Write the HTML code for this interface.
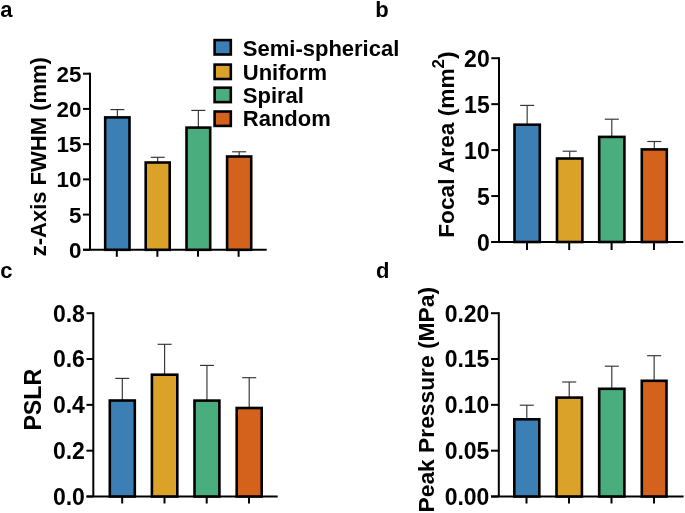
<!DOCTYPE html>
<html><head><meta charset="utf-8"><style>
html,body{margin:0;padding:0;background:#fff;}
svg{display:block;will-change:transform;}
text{font-family:"Liberation Sans",sans-serif;font-weight:bold;fill:#000;}
</style></head><body>
<svg width="685" height="513" viewBox="0 0 685 513">
<rect width="685" height="513" fill="#fff"/>
<text x="0.30" y="17.00" text-anchor="start" font-size="22" >a</text>
<text x="375.20" y="17.00" text-anchor="start" font-size="22" >b</text>
<text x="0.30" y="278.00" text-anchor="start" font-size="22" >c</text>
<text x="376.00" y="278.00" text-anchor="start" font-size="22" >d</text>
<line x1="90.00" y1="72.70" x2="90.00" y2="249.80" stroke="#000" stroke-width="2"/>
<line x1="83.00" y1="249.80" x2="90.00" y2="249.80" stroke="#000" stroke-width="2"/>
<text x="81.40" y="257.93" text-anchor="end" font-size="22.4" >0</text>
<line x1="83.00" y1="214.58" x2="90.00" y2="214.58" stroke="#000" stroke-width="2"/>
<text x="81.40" y="222.71" text-anchor="end" font-size="22.4" >5</text>
<line x1="83.00" y1="179.36" x2="90.00" y2="179.36" stroke="#000" stroke-width="2"/>
<text x="81.40" y="187.49" text-anchor="end" font-size="22.4" >10</text>
<line x1="83.00" y1="144.14" x2="90.00" y2="144.14" stroke="#000" stroke-width="2"/>
<text x="81.40" y="152.27" text-anchor="end" font-size="22.4" >15</text>
<line x1="83.00" y1="108.92" x2="90.00" y2="108.92" stroke="#000" stroke-width="2"/>
<text x="81.40" y="117.05" text-anchor="end" font-size="22.4" >20</text>
<line x1="83.00" y1="73.70" x2="90.00" y2="73.70" stroke="#000" stroke-width="2"/>
<text x="81.40" y="81.83" text-anchor="end" font-size="22.4" >25</text>
<line x1="83.00" y1="249.80" x2="266.70" y2="249.80" stroke="#000" stroke-width="2"/>
<line x1="117.35" y1="109.60" x2="117.35" y2="117.40" stroke="#333" stroke-width="1.15"/>
<line x1="110.35" y1="109.60" x2="124.35" y2="109.60" stroke="#333" stroke-width="1.15"/>
<rect x="105.20" y="117.40" width="24.30" height="132.40" fill="#3C7FB5" stroke="#000" stroke-width="2.6"/>
<line x1="116.80" y1="249.80" x2="116.80" y2="256.80" stroke="#000" stroke-width="2"/>
<line x1="157.70" y1="157.30" x2="157.70" y2="162.50" stroke="#333" stroke-width="1.15"/>
<line x1="150.70" y1="157.30" x2="164.70" y2="157.30" stroke="#333" stroke-width="1.15"/>
<rect x="145.70" y="162.50" width="24.00" height="87.30" fill="#DAA229" stroke="#000" stroke-width="2.6"/>
<line x1="157.40" y1="249.80" x2="157.40" y2="256.80" stroke="#000" stroke-width="2"/>
<line x1="198.35" y1="110.40" x2="198.35" y2="127.60" stroke="#333" stroke-width="1.15"/>
<line x1="191.35" y1="110.40" x2="205.35" y2="110.40" stroke="#333" stroke-width="1.15"/>
<rect x="186.50" y="127.60" width="23.70" height="122.20" fill="#4AAD7D" stroke="#000" stroke-width="2.6"/>
<line x1="198.00" y1="249.80" x2="198.00" y2="256.80" stroke="#000" stroke-width="2"/>
<line x1="239.15" y1="151.80" x2="239.15" y2="156.50" stroke="#333" stroke-width="1.15"/>
<line x1="232.15" y1="151.80" x2="246.15" y2="151.80" stroke="#333" stroke-width="1.15"/>
<rect x="227.10" y="156.50" width="24.10" height="93.30" fill="#D4621C" stroke="#000" stroke-width="2.6"/>
<line x1="238.60" y1="249.80" x2="238.60" y2="256.80" stroke="#000" stroke-width="2"/>
<line x1="499.00" y1="57.20" x2="499.00" y2="242.00" stroke="#000" stroke-width="2"/>
<line x1="491.30" y1="242.00" x2="499.00" y2="242.00" stroke="#000" stroke-width="2"/>
<text x="489.70" y="251.24" text-anchor="end" font-size="23" >0</text>
<line x1="491.30" y1="196.05" x2="499.00" y2="196.05" stroke="#000" stroke-width="2"/>
<text x="489.70" y="205.29" text-anchor="end" font-size="23" >5</text>
<line x1="491.30" y1="150.10" x2="499.00" y2="150.10" stroke="#000" stroke-width="2"/>
<text x="489.70" y="159.34" text-anchor="end" font-size="23" >10</text>
<line x1="491.30" y1="104.15" x2="499.00" y2="104.15" stroke="#000" stroke-width="2"/>
<text x="489.70" y="113.38" text-anchor="end" font-size="23" >15</text>
<line x1="491.30" y1="58.20" x2="499.00" y2="58.20" stroke="#000" stroke-width="2"/>
<text x="489.70" y="67.43" text-anchor="end" font-size="23" >20</text>
<line x1="491.30" y1="242.00" x2="683.30" y2="242.00" stroke="#000" stroke-width="2"/>
<line x1="527.15" y1="105.40" x2="527.15" y2="124.70" stroke="#333" stroke-width="1.15"/>
<line x1="520.15" y1="105.40" x2="534.15" y2="105.40" stroke="#333" stroke-width="1.15"/>
<rect x="514.50" y="124.70" width="25.30" height="117.30" fill="#3C7FB5" stroke="#000" stroke-width="2.6"/>
<line x1="527.00" y1="242.00" x2="527.00" y2="250.00" stroke="#000" stroke-width="2"/>
<line x1="569.70" y1="151.20" x2="569.70" y2="158.50" stroke="#333" stroke-width="1.15"/>
<line x1="562.70" y1="151.20" x2="576.70" y2="151.20" stroke="#333" stroke-width="1.15"/>
<rect x="557.00" y="158.50" width="25.40" height="83.50" fill="#DAA229" stroke="#000" stroke-width="2.6"/>
<line x1="569.20" y1="242.00" x2="569.20" y2="250.00" stroke="#000" stroke-width="2"/>
<line x1="611.80" y1="119.20" x2="611.80" y2="136.90" stroke="#333" stroke-width="1.15"/>
<line x1="604.80" y1="119.20" x2="618.80" y2="119.20" stroke="#333" stroke-width="1.15"/>
<rect x="599.20" y="136.90" width="25.20" height="105.10" fill="#4AAD7D" stroke="#000" stroke-width="2.6"/>
<line x1="611.60" y1="242.00" x2="611.60" y2="250.00" stroke="#000" stroke-width="2"/>
<line x1="654.30" y1="141.50" x2="654.30" y2="149.40" stroke="#333" stroke-width="1.15"/>
<line x1="647.30" y1="141.50" x2="661.30" y2="141.50" stroke="#333" stroke-width="1.15"/>
<rect x="641.80" y="149.40" width="25.00" height="92.60" fill="#D4621C" stroke="#000" stroke-width="2.6"/>
<line x1="654.00" y1="242.00" x2="654.00" y2="250.00" stroke="#000" stroke-width="2"/>
<line x1="93.30" y1="312.20" x2="93.30" y2="496.50" stroke="#000" stroke-width="2"/>
<line x1="86.50" y1="496.50" x2="93.30" y2="496.50" stroke="#000" stroke-width="2"/>
<text x="84.90" y="504.83" text-anchor="end" font-size="23" >0.0</text>
<line x1="86.50" y1="450.68" x2="93.30" y2="450.68" stroke="#000" stroke-width="2"/>
<text x="84.90" y="459.01" text-anchor="end" font-size="23" >0.2</text>
<line x1="86.50" y1="404.85" x2="93.30" y2="404.85" stroke="#000" stroke-width="2"/>
<text x="84.90" y="413.19" text-anchor="end" font-size="23" >0.4</text>
<line x1="86.50" y1="359.02" x2="93.30" y2="359.02" stroke="#000" stroke-width="2"/>
<text x="84.90" y="367.36" text-anchor="end" font-size="23" >0.6</text>
<line x1="86.50" y1="313.20" x2="93.30" y2="313.20" stroke="#000" stroke-width="2"/>
<text x="84.90" y="321.53" text-anchor="end" font-size="23" >0.8</text>
<line x1="86.50" y1="496.50" x2="277.70" y2="496.50" stroke="#000" stroke-width="2"/>
<line x1="122.30" y1="378.40" x2="122.30" y2="400.50" stroke="#333" stroke-width="1.15"/>
<line x1="115.30" y1="378.40" x2="129.30" y2="378.40" stroke="#333" stroke-width="1.15"/>
<rect x="109.80" y="400.50" width="25.00" height="96.00" fill="#3C7FB5" stroke="#000" stroke-width="2.6"/>
<line x1="122.20" y1="496.50" x2="122.20" y2="503.50" stroke="#000" stroke-width="2"/>
<line x1="164.60" y1="344.30" x2="164.60" y2="374.70" stroke="#333" stroke-width="1.15"/>
<line x1="157.60" y1="344.30" x2="171.60" y2="344.30" stroke="#333" stroke-width="1.15"/>
<rect x="151.90" y="374.70" width="25.40" height="121.80" fill="#DAA229" stroke="#000" stroke-width="2.6"/>
<line x1="164.50" y1="496.50" x2="164.50" y2="503.50" stroke="#000" stroke-width="2"/>
<line x1="206.95" y1="365.40" x2="206.95" y2="400.60" stroke="#333" stroke-width="1.15"/>
<line x1="199.95" y1="365.40" x2="213.95" y2="365.40" stroke="#333" stroke-width="1.15"/>
<rect x="194.50" y="400.60" width="24.90" height="95.90" fill="#4AAD7D" stroke="#000" stroke-width="2.6"/>
<line x1="206.70" y1="496.50" x2="206.70" y2="503.50" stroke="#000" stroke-width="2"/>
<line x1="249.20" y1="377.70" x2="249.20" y2="408.00" stroke="#333" stroke-width="1.15"/>
<line x1="242.20" y1="377.70" x2="256.20" y2="377.70" stroke="#333" stroke-width="1.15"/>
<rect x="236.70" y="408.00" width="25.00" height="88.50" fill="#D4621C" stroke="#000" stroke-width="2.6"/>
<line x1="249.00" y1="496.50" x2="249.00" y2="503.50" stroke="#000" stroke-width="2"/>
<line x1="498.80" y1="312.20" x2="498.80" y2="496.50" stroke="#000" stroke-width="2"/>
<line x1="491.00" y1="496.50" x2="498.80" y2="496.50" stroke="#000" stroke-width="2"/>
<text x="489.40" y="504.83" text-anchor="end" font-size="23" >0.00</text>
<line x1="491.00" y1="450.68" x2="498.80" y2="450.68" stroke="#000" stroke-width="2"/>
<text x="489.40" y="459.01" text-anchor="end" font-size="23" >0.05</text>
<line x1="491.00" y1="404.85" x2="498.80" y2="404.85" stroke="#000" stroke-width="2"/>
<text x="489.40" y="413.19" text-anchor="end" font-size="23" >0.10</text>
<line x1="491.00" y1="359.02" x2="498.80" y2="359.02" stroke="#000" stroke-width="2"/>
<text x="489.40" y="367.36" text-anchor="end" font-size="23" >0.15</text>
<line x1="491.00" y1="313.20" x2="498.80" y2="313.20" stroke="#000" stroke-width="2"/>
<text x="489.40" y="321.53" text-anchor="end" font-size="23" >0.20</text>
<line x1="491.00" y1="496.50" x2="683.60" y2="496.50" stroke="#000" stroke-width="2"/>
<line x1="526.80" y1="405.20" x2="526.80" y2="419.30" stroke="#333" stroke-width="1.15"/>
<line x1="519.80" y1="405.20" x2="533.80" y2="405.20" stroke="#333" stroke-width="1.15"/>
<rect x="514.30" y="419.30" width="25.00" height="77.20" fill="#3C7FB5" stroke="#000" stroke-width="2.6"/>
<line x1="526.50" y1="496.50" x2="526.50" y2="503.50" stroke="#000" stroke-width="2"/>
<line x1="569.20" y1="382.00" x2="569.20" y2="397.60" stroke="#333" stroke-width="1.15"/>
<line x1="562.20" y1="382.00" x2="576.20" y2="382.00" stroke="#333" stroke-width="1.15"/>
<rect x="556.50" y="397.60" width="25.40" height="98.90" fill="#DAA229" stroke="#000" stroke-width="2.6"/>
<line x1="569.00" y1="496.50" x2="569.00" y2="503.50" stroke="#000" stroke-width="2"/>
<line x1="611.80" y1="366.20" x2="611.80" y2="388.80" stroke="#333" stroke-width="1.15"/>
<line x1="604.80" y1="366.20" x2="618.80" y2="366.20" stroke="#333" stroke-width="1.15"/>
<rect x="599.20" y="388.80" width="25.20" height="107.70" fill="#4AAD7D" stroke="#000" stroke-width="2.6"/>
<line x1="611.50" y1="496.50" x2="611.50" y2="503.50" stroke="#000" stroke-width="2"/>
<line x1="654.15" y1="355.70" x2="654.15" y2="380.80" stroke="#333" stroke-width="1.15"/>
<line x1="647.15" y1="355.70" x2="661.15" y2="355.70" stroke="#333" stroke-width="1.15"/>
<rect x="641.80" y="380.80" width="24.70" height="115.70" fill="#D4621C" stroke="#000" stroke-width="2.6"/>
<line x1="654.00" y1="496.50" x2="654.00" y2="503.50" stroke="#000" stroke-width="2"/>
<text transform="translate(45.9,256.3) rotate(-90)" font-size="22">z-Axis FWHM (mm)</text>
<text transform="translate(453.5,237.8) rotate(-90)" font-size="22.7">Focal Area (mm<tspan font-size="17" dy="-9.5">2</tspan><tspan dy="9.5">)</tspan></text>
<text transform="translate(40.8,430.6) rotate(-90)" font-size="23.2">PSLR</text>
<text transform="translate(434.4,512.5) rotate(-90)" font-size="22.8">Peak Pressure (MPa)</text>
<rect x="214.60" y="40.10" width="16.20" height="14.40" fill="#3C7FB5" stroke="#000" stroke-width="2.6"/>
<text x="242.80" y="55.90" text-anchor="start" font-size="22" >Semi-spherical</text>
<rect x="214.60" y="64.60" width="16.20" height="14.40" fill="#DAA229" stroke="#000" stroke-width="2.6"/>
<text x="242.80" y="79.70" text-anchor="start" font-size="22" >Uniform</text>
<rect x="214.60" y="87.70" width="16.20" height="14.40" fill="#4AAD7D" stroke="#000" stroke-width="2.6"/>
<text x="242.80" y="103.40" text-anchor="start" font-size="22" >Spiral</text>
<rect x="214.60" y="111.50" width="16.20" height="14.40" fill="#D4621C" stroke="#000" stroke-width="2.6"/>
<text x="242.80" y="126.40" text-anchor="start" font-size="22" >Random</text>
</svg>
</body></html>
